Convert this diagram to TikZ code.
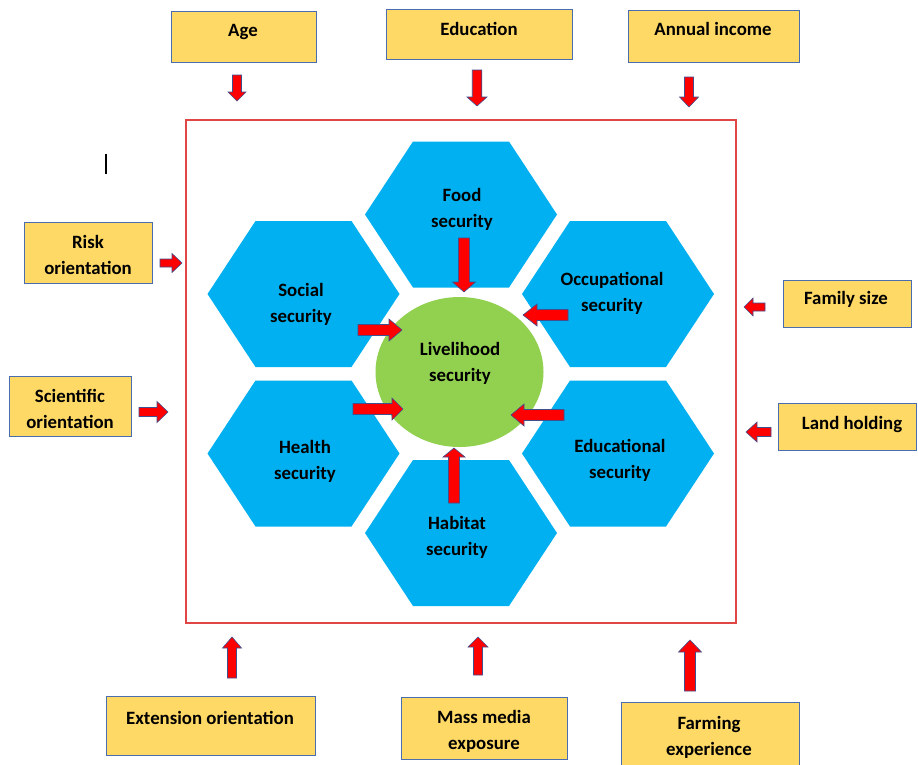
\documentclass[tikz,border=0pt]{standalone}
\usepackage{fontspec}
\setmainfont{Carlito}
\usetikzlibrary{calc,shapes.geometric}

\definecolor{boxfill}{HTML}{FFD966}
\definecolor{boxline}{HTML}{4A6DB0}
\definecolor{hexblue}{HTML}{00B0F0}
\definecolor{leafgreen}{HTML}{92D050}
\definecolor{framered}{HTML}{E04646}
\definecolor{arrowred}{HTML}{FF0000}
\definecolor{arrowedge}{HTML}{3F4F8F}

% flat-topped hexagon centred at (#2,#3), centre stored as coordinate #1
\newcommand{\hexcell}[3]{%
  \path[hexcell] (#2-96,#3) -- (#2-48,#3-73) -- (#2+48,#3-73) -- (#2+96,#3)
    -- (#2+48,#3+73) -- (#2-48,#3+73) -- cycle;
  \coordinate (#1) at (#2,#3);}

% block arrow from coordinate #1 (tail) to #2 (tip):
% #3 shaft half-width, #4 head half-width, #5 head length, #6 name prefix
\newcommand{\blockarrow}[6]{%
  \coordinate (#6-h) at ($(#2)!#5!(#1)$);
  \path[blockarr] ($(#1)!#3!90:(#2)$) -- ($(#6-h)!#3!90:(#2)$)
    -- ($(#6-h)!#4!90:(#2)$) -- (#2) -- ($(#6-h)!#4!-90:(#2)$)
    -- ($(#6-h)!#3!-90:(#2)$) -- ($(#1)!#3!-90:(#2)$) -- cycle;}

\begin{document}
\begin{tikzpicture}[x=1pt,y=-1pt,
  every node/.style={font=\fontsize{18.8pt}{26pt}\selectfont\bfseries, inner sep=0pt},
  factor/.style={draw=boxline, line width=1pt, fill=boxfill, rectangle},
  lbl/.style={align=center, text=black},
  one/.style={text height=13pt, text depth=4pt},
  hexcell/.style={fill=hexblue},
  hub/.style={ellipse, fill=leafgreen, minimum width=168pt, minimum height=150pt},
  blockarr/.style={fill=arrowred, draw=arrowedge, line width=0.6pt, line join=miter}]

\clip (0,0) rectangle (918,764);
\fill[white] (0,0) rectangle (918,764);

% outer frame
\draw[framered, line width=1.2pt] (186,120) rectangle (736,623);

% text cursor mark
\draw[black, line width=1.2pt] (106,154) -- (106,174);

% security hexagons
\hexcell{food}{461}{214.5}
\hexcell{social}{303.5}{294}
\hexcell{occup}{618}{294}
\hexcell{health}{303.5}{453.5}
\hexcell{educ}{618}{453.5}
\hexcell{habitat}{461}{533}

\node[lbl] (foodL)    at (462,209)   {Food\\security};
\node[lbl] (socialL)  at (301,304)   {Social\\security};
\node[lbl] (occupL)   at (612,293)   {Occupational\\security};
\node[lbl] (healthL)  at (305,461)   {Health\\security};
\node[lbl] (educL)    at (620,460)   {Educational\\security};
\node[lbl] (habitatL) at (457,537)   {Habitat\\security};

% central livelihood node
\node[hub] (live) at (459.5,372) {};
\node[lbl] (liveL) at (460,363) {Livelihood\\security};

% factor boxes
\node[factor, minimum width=145pt, minimum height=51pt] (age)  at (243.5,36.5) {};
\node[factor, minimum width=186pt, minimum height=50pt] (edu)  at (479,34) {};
\node[factor, minimum width=171pt, minimum height=52pt] (inc)  at (713.5,36) {};
\node[factor, minimum width=128pt, minimum height=61pt] (risk) at (88,252.5) {};
\node[factor, minimum width=122pt, minimum height=60pt] (sci)  at (70,406) {};
\node[factor, minimum width=128pt, minimum height=47pt] (fam)  at (847,303.5) {};
\node[factor, minimum width=138pt, minimum height=47pt] (land) at (847,426.5) {};
\node[factor, minimum width=209pt, minimum height=59pt] (ext)  at (210.5,725.5) {};
\node[factor, minimum width=166pt, minimum height=62pt] (mass) at (484,728) {};
\node[factor, minimum width=178pt, minimum height=68pt] (farm) at (710,736) {};

\node[lbl, one] (ageL)  at (243,32)   {Age};
\node[lbl, one] (eduL)  at (479,31)   {Education};
\node[lbl, one] (incL)  at (713,31)   {Annual income};
\node[lbl]      (riskL) at (88,255)   {Risk\\orientation};
\node[lbl]      (sciL)  at (70,409)   {Scientific\\orientation};
\node[lbl, one] (famL)  at (846,300)  {Family size};
\node[lbl, one] (landL) at (852,425)  {Land holding};
\node[lbl, one] (extL)  at (210,720)  {Extension orientation};
\node[lbl]      (massL) at (484,731)  {Mass media\\exposure};
\node[lbl]      (farmL) at (709,737)  {Farming\\experience};

% arrow end points
\coordinate (ageA)  at (237,75);   \coordinate (ageB)  at (237,101);
\coordinate (eduA)  at (477,70);   \coordinate (eduB)  at (477,106);
\coordinate (incA)  at (689,77);   \coordinate (incB)  at (689,107);
\coordinate (riskA) at (160,263);  \coordinate (riskB) at (182,263);
\coordinate (sciA)  at (139,412);  \coordinate (sciB)  at (168,412);
\coordinate (famA)  at (765,307);  \coordinate (famB)  at (744,307);
\coordinate (landA) at (771,432);  \coordinate (landB) at (746,432);
\coordinate (extA)  at (232,678);  \coordinate (extB)  at (232,637);
\coordinate (massA) at (478,675);  \coordinate (massB) at (478,637);
\coordinate (farmA) at (690,691);  \coordinate (farmB) at (690,640);

\coordinate (foodA)    at (464,238); \coordinate (foodB)    at (464,292);
\coordinate (socialA)  at (358,330); \coordinate (socialB)  at (402,330);
\coordinate (occupA)   at (568,315); \coordinate (occupB)   at (523,315);
\coordinate (healthA)  at (353,409); \coordinate (healthB)  at (403,409);
\coordinate (educA)    at (564,415); \coordinate (educB)    at (511,415);
\coordinate (habitatA) at (454,503); \coordinate (habitatB) at (454,448);

% outer factor arrows
\blockarrow{ageA}{ageB}{4.5pt}{9pt}{9pt}{ar1}
\blockarrow{eduA}{eduB}{4.75pt}{10pt}{9pt}{ar2}
\blockarrow{incA}{incB}{4.5pt}{9.5pt}{10pt}{ar3}
\blockarrow{riskA}{riskB}{4pt}{9.5pt}{10pt}{ar4}
\blockarrow{sciA}{sciB}{4.5pt}{10.5pt}{11pt}{ar5}
\blockarrow{famA}{famB}{4pt}{9pt}{9pt}{ar6}
\blockarrow{landA}{landB}{4.5pt}{10pt}{11pt}{ar7}
\blockarrow{extA}{extB}{4.5pt}{9.5pt}{11pt}{ar8}
\blockarrow{massA}{massB}{4.5pt}{10pt}{10pt}{ar9}
\blockarrow{farmA}{farmB}{5.5pt}{11.5pt}{12pt}{ar10}

% inner security arrows
\blockarrow{foodA}{foodB}{5.5pt}{11.5pt}{10pt}{ar11}
\blockarrow{socialA}{socialB}{5.5pt}{11pt}{13pt}{ar12}
\blockarrow{occupA}{occupB}{5.5pt}{11pt}{14pt}{ar13}
\blockarrow{healthA}{healthB}{5.5pt}{11pt}{11pt}{ar14}
\blockarrow{educA}{educB}{5.5pt}{11pt}{13pt}{ar15}
\blockarrow{habitatA}{habitatB}{5.5pt}{11pt}{9pt}{ar16}

\end{tikzpicture}
\end{document}
